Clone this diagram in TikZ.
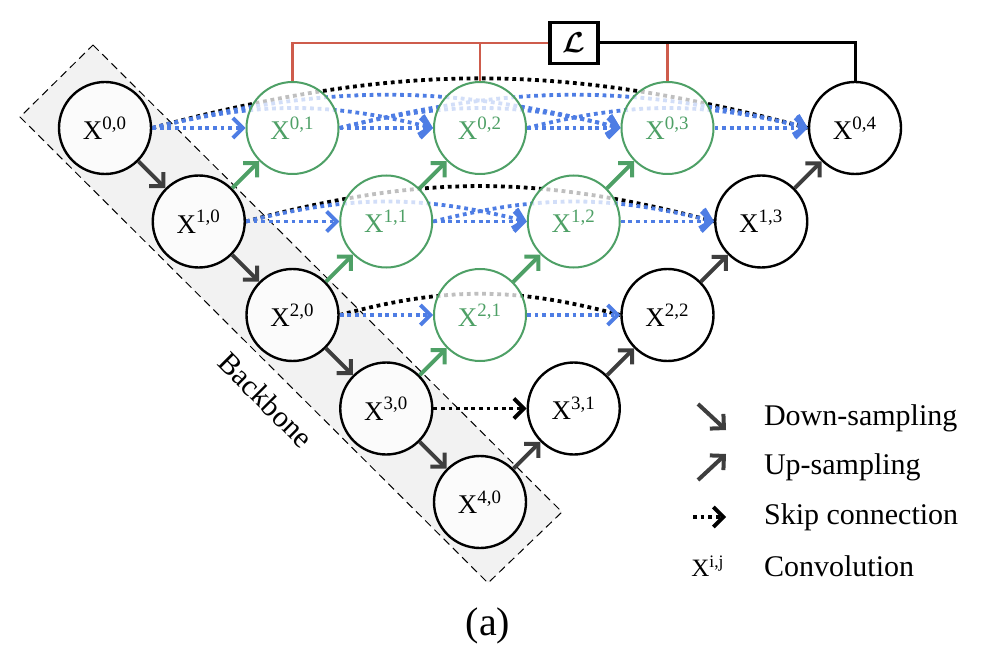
\documentclass[tikz,border=0pt]{standalone}
\usepackage{fontspec}
\setmainfont{Liberation Serif}
\usepackage{amsmath}
\usepackage{amssymb}
\usepackage{xcolor}
\usetikzlibrary{arrows.meta}
\definecolor{skipblue}{RGB}{78,125,228}
\definecolor{nestgreen}{RGB}{78,160,102}
\definecolor{lossred}{RGB}{206,92,76}
\definecolor{samplegray}{RGB}{62,62,62}
\pgfdeclarelayer{bottom}
\pgfdeclarelayer{background}
\pgfsetlayers{bottom,background,main}
\tikzset{
  conv/.style={circle,draw=black,line width=1.2pt,fill=white,fill opacity=0.75,text opacity=1,
    minimum size=46pt,inner sep=0pt,font=\fontsize{13.5}{15}\selectfont},
  nested/.style={conv,draw=nestgreen,line width=1pt,text=nestgreen},
  sample/.style={-{Straight Barb[length=5pt,width=10pt]},samplegray,line width=2pt},
  upnested/.style={sample,nestgreen},
  skipline/.style={line width=1.9pt,dash pattern=on 1.9pt off 1.9pt},
  blueskip/.style={skipline,draw=skipblue,-{Straight Barb[length=5pt,width=10pt]}},
  blackskip/.style={skipline,draw=black},
  legend/.style={anchor=west,font=\fontsize{15}{18}\selectfont}
}

\begin{document}
\begin{tikzpicture}[x=0.5pt,y=-0.5pt]
        \useasboundingbox (0,0) rectangle (990,668);
        \begin{pgfonlayer}{bottom}
        \draw[fill=black!5,line width=0.5pt,dash pattern=on 4pt off 2.5pt] (93,45) -- (562,512) -- (488,583) -- (20,117) -- cycle;
        \end{pgfonlayer}
        \node[rotate=-45,font=\fontsize{15}{18}\selectfont] (backbone) at (266,400) {Backbone};

        \node[conv] (x00) at (105,128) {X\textsuperscript{0,0}};
        \node[conv] (x10) at (198.75,221.5) {X\textsuperscript{1,0}};
        \node[conv] (x20) at (292.5,315) {X\textsuperscript{2,0}};
        \node[conv] (x30) at (386.25,408.5) {X\textsuperscript{3,0}};
        \node[conv] (x40) at (480,502) {X\textsuperscript{4,0}};
        \node[nested] (x01) at (292.5,128) {X\textsuperscript{0,1}};
        \node[nested] (x11) at (386.25,221.5) {X\textsuperscript{1,1}};
        \node[nested] (x21) at (480,315) {X\textsuperscript{2,1}};
        \node[conv] (x31) at (573.75,408.5) {X\textsuperscript{3,1}};
        \node[nested] (x02) at (480,128) {X\textsuperscript{0,2}};
        \node[nested] (x12) at (573.75,221.5) {X\textsuperscript{1,2}};
        \node[conv] (x22) at (667.5,315) {X\textsuperscript{2,2}};
        \node[nested] (x03) at (667.5,128) {X\textsuperscript{0,3}};
        \node[conv] (x13) at (761.25,221.5) {X\textsuperscript{1,3}};
        \node[conv] (x04) at (855,128) {X\textsuperscript{0,4}};

        \draw[sample] (x00) -- (x10);
        \draw[sample] (x10) -- (x20);
        \draw[sample] (x20) -- (x30);
        \draw[sample] (x30) -- (x40);
        \draw[upnested] (x10) -- (x01);
        \draw[upnested] (x20) -- (x11);
        \draw[upnested] (x30) -- (x21);
        \draw[upnested] (x11) -- (x02);
        \draw[upnested] (x21) -- (x12);
        \draw[upnested] (x12) -- (x03);
        \draw[sample] (x40) -- (x31);
        \draw[sample] (x31) -- (x22);
        \draw[sample] (x22) -- (x13);
        \draw[sample] (x13) -- (x04);

        \begin{pgfonlayer}{background}
        \draw[blackskip] (x00.east) to[bend left=15] (x04.west);
        \draw[blackskip] (x10.east) to[bend left=15] (x13.west);
        \draw[blackskip] (x20.east) to[bend left=15] (x22.west);
        \draw[blackskip,-{Straight Barb[length=5pt,width=10pt]}] (x30) -- (x31);
        \draw[blueskip] (x00) -- (x01);
        \draw[blueskip] (x01) -- (x02);
        \draw[blueskip] (x02) -- (x03);
        \draw[blueskip] (x03) -- (x04);
        \draw[blueskip] (x10) -- (x11);
        \draw[blueskip] (x11) -- (x12);
        \draw[blueskip] (x12) -- (x13);
        \draw[blueskip] (x20) -- (x21);
        \draw[blueskip] (x21) -- (x22);
        \draw[blueskip] (x00.east) to[bend left=14] (x02.west);
        \draw[blueskip] (x00.east) to[bend left=14] (x03.west);
        \draw[blueskip] (x01.east) to[bend left=14] (x03.west);
        \draw[blueskip] (x01.east) to[bend left=14] (x04.west);
        \draw[blueskip] (x02.east) to[bend left=14] (x04.west);
        \draw[blueskip] (x10.east) to[bend left=14] (x12.west);
        \draw[blueskip] (x11.east) to[bend left=14] (x13.west);
        \end{pgfonlayer}

        \node[draw,line width=1.6pt,fill=white,minimum width=24pt,minimum height=20.5pt,inner sep=0pt,font=\fontsize{15}{16}\selectfont] (loss) at (574,43) {$\boldsymbol{\mathcal{L}}$};
        \draw[lossred,line width=1.3pt] (loss.west) -| (x01.north);
        \draw[lossred,line width=1.3pt] (x02.north) -- (x02.north |- loss.west);
        \draw[lossred,line width=1.3pt] (x03.north) -- (x03.north |- loss.east);
        \draw[black,line width=1.5pt] (loss.east) -| (x04.north);

        \coordinate (d1) at (698,404);
        \coordinate (d2) at (726,430);
        \coordinate (u1) at (698,480);
        \coordinate (u2) at (726,454);
        \coordinate (s1) at (693,517);
        \coordinate (s2) at (726,517);
        \draw[sample] (d1) -- (d2);
        \draw[sample] (u1) -- (u2);
        \draw[blackskip,-{Straight Barb[length=5pt,width=10pt]}] (s1) -- (s2);
        \node[font=\fontsize{12.5}{14}\selectfont] (xij) at (708,566) {X\textsuperscript{i,j}};
        \node[legend] (ldown) at (757,418) {Down-sampling};
        \node[legend] (lup) at (757,467) {Up-sampling};
        \node[legend] (lskip) at (757,517) {Skip connection};
        \node[legend] (lconv) at (757,566) {Convolution};
        \node[font=\fontsize{20}{24}\selectfont] (cap) at (488,626) {(a)};
    \end{tikzpicture}
\end{document}
